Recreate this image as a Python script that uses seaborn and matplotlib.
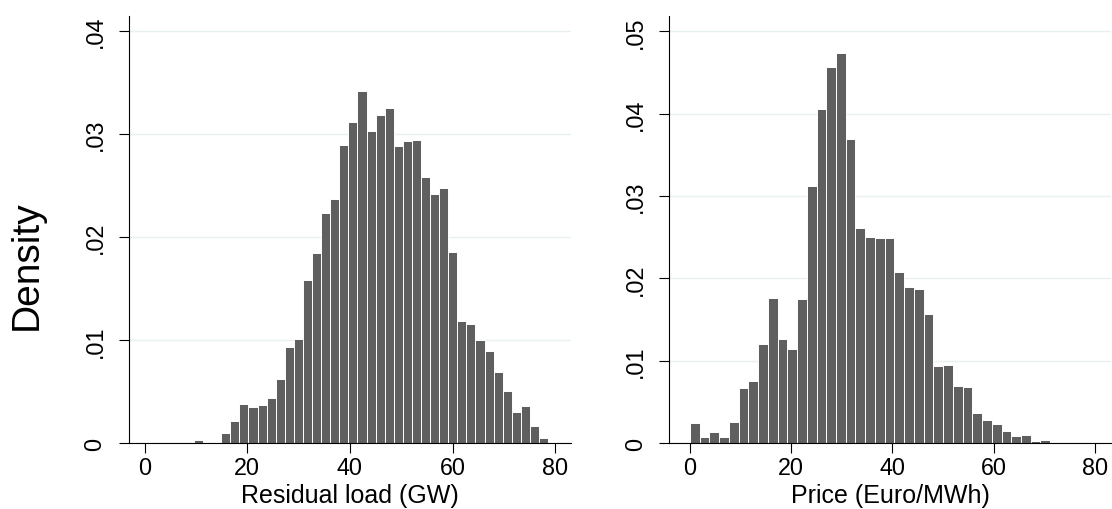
import numpy as np
import pandas as pd
import matplotlib
matplotlib.use("Agg")
import matplotlib.pyplot as plt
import seaborn as sns

# ---------------- data ----------------
load_bin_start = 9.61
load_bin_width = 1.769
load_density = [0.0003, 0.0001, 0.0001, 0.0010, 0.0022, 0.00377, 0.00355, 0.00368,
                0.00442, 0.0062, 0.0093, 0.01016, 0.01584, 0.01852, 0.02239, 0.02368,
                0.0290, 0.03123, 0.0342, 0.03035, 0.0319, 0.03252, 0.0289, 0.02935,
                0.02948, 0.0259, 0.0242, 0.02474, 0.01858, 0.01184, 0.01158, 0.0100,
                0.00897, 0.0069, 0.0051, 0.0030, 0.00361, 0.00165, 0.00055]

price_bin_start = 0.0
price_bin_width = 1.924
price_density = [0.00247, 0.00073, 0.00138, 0.00073, 0.00255, 0.00676, 0.00761, 0.01206,
                 0.01769, 0.01267, 0.01146, 0.01749, 0.03117, 0.04057, 0.04563, 0.04733,
                 0.03696, 0.02615, 0.02506, 0.0249, 0.02494, 0.02081, 0.01891, 0.0187,
                 0.01575, 0.00939, 0.00947, 0.00692, 0.0068, 0.00372, 0.00279, 0.0023,
                 0.0015, 0.00085, 0.00097, 0.00024, 0.00036, 0.0001]

x_ticks = [0, 20, 40, 60, 80]
x_tick_labels = ["0", "20", "40", "60", "80"]
load_y_ticks = [0, 0.01, 0.02, 0.03, 0.04]
load_y_labels = ["0", ".01", ".02", ".03", ".04"]
price_y_ticks = [0, 0.01, 0.02, 0.03, 0.04, 0.05]
price_y_labels = ["0", ".01", ".02", ".03", ".04", ".05"]

load_xlabel = "Residual load (GW)"
price_xlabel = "Price (Euro/MWh)"
y_title = "Density"

# ---------------- style ----------------
plt.rcParams["font.family"] = ["Liberation Sans", "DejaVu Sans"]
BAR = "#5f5f5f"
EDGE = "#ffffff"
GRID = "#e8f0f2"
TICK_FS = 16.8
LABEL_FS = 18
TITLE_FS = 28

W, H = 1112, 510
fig = plt.figure(figsize=(W / 100, H / 100), dpi=100)

bottom = (H - 444.3) / H
height = 427.6 / H
ax1 = fig.add_axes([129 / W, bottom, 441.7 / W, height])
ax2 = fig.add_axes([669.3 / W, bottom, (1111 - 669.3) / W, height])


def draw(ax, start, width, dens, xlabel, yticks, ylabels, xlim, ylim):
    n = len(dens)
    edges = [start + width * i for i in range(n + 1)]
    centers = [(edges[i] + edges[i + 1]) / 2 for i in range(n)]
    df = pd.DataFrame({"x": centers, "w": dens})
    sns.histplot(data=df, x="x", weights="w", bins=edges, stat="count", ax=ax,
                 color=BAR, alpha=1, edgecolor=EDGE, linewidth=0.7)
    ax.set_xlim(*xlim)
    ax.set_ylim(*ylim)
    ax.set_axisbelow(True)
    ax.yaxis.grid(True, color=GRID, linewidth=1.0)
    ax.xaxis.grid(False)
    for s in ["top", "right"]:
        ax.spines[s].set_visible(False)
    for s in ["left", "bottom"]:
        ax.spines[s].set_color("black")
        ax.spines[s].set_linewidth(0.8)
    ax.set_xticks(x_ticks)
    ax.set_xticklabels(x_tick_labels)
    ax.set_yticks(yticks)
    ax.set_yticklabels(ylabels, rotation=90, va="center")
    ax.tick_params(axis="x", direction="out", length=7.2, width=0.8,
                   labelsize=TICK_FS, pad=2)
    ax.tick_params(axis="y", direction="out", length=7.2, width=0.8,
                   labelsize=TICK_FS, pad=9)
    ax.set_ylabel("")
    ax.set_xlabel(xlabel, fontsize=LABEL_FS)
    ax.xaxis.label.set_va("baseline")
    ax.xaxis.set_label_coords(0.5, (444.3 - 503.3) / 427.6)
    ax.set_facecolor("white")


draw(ax1, load_bin_start, load_bin_width, load_density, load_xlabel,
     load_y_ticks, load_y_labels, (-3.05, 83.0), (0, 0.04151))
draw(ax2, price_bin_start, price_bin_width, price_density, price_xlabel,
     price_y_ticks, price_y_labels, (-4.08, 83.2), (0, 0.05189))

fig.text(26.7 / W, 1 - 265 / H, y_title, rotation=90, ha="center", va="center",
         fontsize=TITLE_FS)

fig.savefig("out.png", dpi=100, facecolor="white")
